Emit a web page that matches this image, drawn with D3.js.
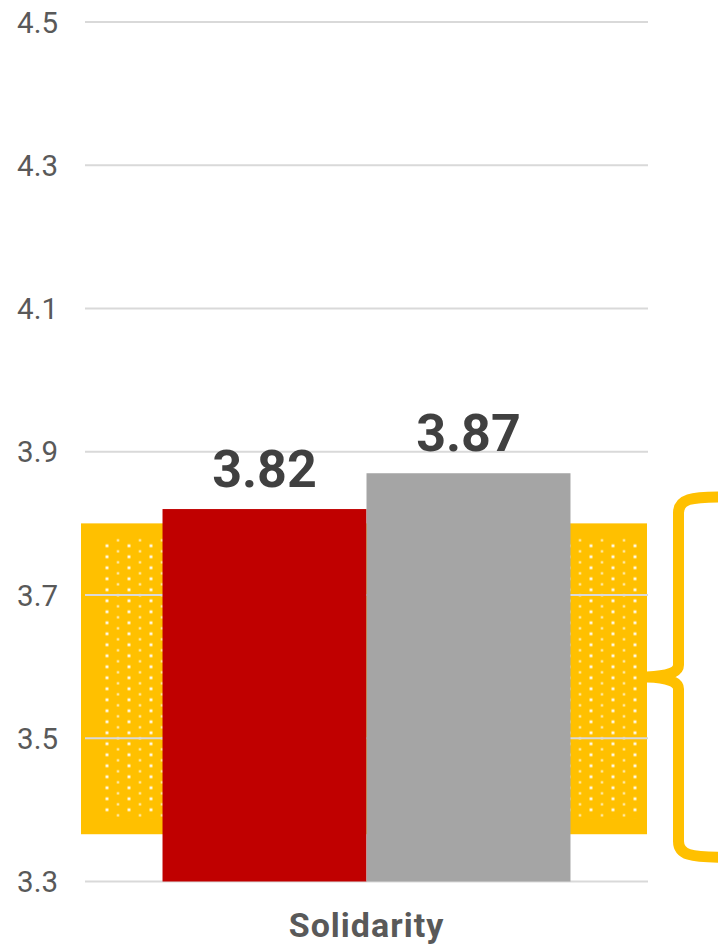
<!DOCTYPE html>
<html>
<head>
<meta charset="utf-8">
<script src="https://cdn.jsdelivr.net/npm/d3@7"></script>
<style>
  html, body { margin: 0; padding: 0; background: #ffffff; }
  svg { display: block; }
</style>
</head>
<body>
<div id="chart"></div>
<script>
// Chart data
const categories = ["Solidarity"];
const seriesNames = ["Group A", "Group B"];
const seriesValues = [3.82, 3.87];
const seriesColors = ["#C00000", "#A5A5A5"];
const yTicks = [3.3, 3.5, 3.7, 3.9, 4.1, 4.3, 4.5];
// Reference range shown as the shaded band
const bandRange = [3.366, 3.80];
// Extent of the curly brace on the right
const braceRange = [3.334, 3.837];

const width = 718, height = 947;
const svg = d3.select("#chart").append("svg")
  .attr("width", width).attr("height", height);

const y = d3.scaleLinear().domain([3.3, 4.5]).range([881.5, 22]);
const x = d3.scaleBand().domain(categories).range([85, 648])
  .paddingInner(0).paddingOuter(0.19);
const xs = d3.scaleBand().domain(seriesNames).range([0, x.bandwidth()]);

// Dotted pattern for the band
const defs = svg.append("defs");
const pat = defs.append("pattern")
  .attr("id", "dots")
  .attr("patternUnits", "userSpaceOnUse")
  .attr("width", 22).attr("height", 11)
  .attr("patternTransform", "translate(101.5,534.8)");
pat.append("rect").attr("width", 22).attr("height", 11).attr("fill", "#FFC000");
pat.append("rect").attr("x", 5.5 - 1.4).attr("y", 11 - 1.4)
  .attr("width", 2.8).attr("height", 2.8).attr("fill", "#ffffff").attr("opacity", 0.95);
pat.append("rect").attr("x", 5.5 - 1.4).attr("y", 0 - 1.4)
  .attr("width", 2.8).attr("height", 2.8).attr("fill", "#ffffff").attr("opacity", 0.95);
pat.append("rect").attr("x", 16.5 - 0.9).attr("y", 5.5 - 1.1)
  .attr("width", 1.8).attr("height", 2.2).attr("fill", "#ffffff").attr("opacity", 0.95);

const x0 = x.range()[0], x1 = x.range()[1];

// Shaded band
svg.append("rect")
  .attr("x", x0 - 4).attr("width", x1 - x0 + 3)
  .attr("y", y(bandRange[1])).attr("height", y(bandRange[0]) - y(bandRange[1]))
  .attr("fill", "#FFC000");
svg.append("rect")
  .attr("x", x0 + 18).attr("width", x1 - x0 - 27)
  .attr("y", y(bandRange[1]) + 14).attr("height", y(bandRange[0]) - y(bandRange[1]) - 30)
  .attr("fill", "url(#dots)");

// Gridlines
svg.append("g").selectAll("line").data(yTicks).join("line")
  .attr("x1", x0).attr("x2", x1)
  .attr("y1", d => y(d)).attr("y2", d => y(d))
  .attr("stroke", "#D9D9D9").attr("stroke-width", 2);

// Y axis labels
svg.append("g").selectAll("text").data(yTicks).join("text")
  .attr("x", 58).attr("y", d => y(d) + 10.5)
  .attr("text-anchor", "end")
  .attr("font-family", "Roboto, sans-serif")
  .attr("font-size", 29.5)
  .attr("fill", "#595959")
  .text(d => d.toFixed(1));

// Bars
const g = svg.append("g").attr("transform", `translate(${x(categories[0])},0)`);
g.selectAll("rect").data(seriesValues).join("rect")
  .attr("x", (d, i) => xs(seriesNames[i]))
  .attr("width", xs.bandwidth())
  .attr("y", d => y(d))
  .attr("height", d => y(3.3) - y(d))
  .attr("fill", (d, i) => seriesColors[i]);

// Value labels
g.selectAll("text").data(seriesValues).join("text")
  .attr("x", (d, i) => xs(seriesNames[i]) + xs.bandwidth() / 2)
  .attr("y", d => y(d) - 22)
  .attr("text-anchor", "middle")
  .attr("font-family", "Roboto, sans-serif")
  .attr("font-weight", 700)
  .attr("font-size", 52)
  .attr("fill", "#404040")
  .text(d => d.toFixed(2));

// Category label
svg.append("text")
  .attr("x", x(categories[0]) + x.bandwidth() / 2)
  .attr("y", 937)
  .attr("text-anchor", "middle")
  .attr("font-family", "Roboto, sans-serif")
  .attr("font-weight", 700)
  .attr("font-size", 34)
  .attr("letter-spacing", 1)
  .attr("fill", "#595959")
  .text(categories[0]);

// Curly brace on the right
const bt = y(braceRange[1]), bb = y(braceRange[0]), bm = (bt + bb) / 2;
const bx = 678.5, tipX = x1 - 1;
const brace = d3.path();
brace.moveTo(720, bt);
brace.bezierCurveTo(692, bt, bx, bt + 2, bx, bt + 16);
brace.lineTo(bx, bm - 12);
brace.quadraticCurveTo(bx, bm - 1, tipX, bm);
brace.moveTo(tipX, bm);
brace.quadraticCurveTo(bx, bm + 1, bx, bm + 12);
brace.lineTo(bx, bb - 16);
brace.bezierCurveTo(bx, bb - 2, 692, bb, 720, bb);
svg.append("path")
  .attr("d", brace.toString())
  .attr("fill", "none")
  .attr("stroke", "#FFC000")
  .attr("stroke-width", 11);
</script>
</body>
</html>
